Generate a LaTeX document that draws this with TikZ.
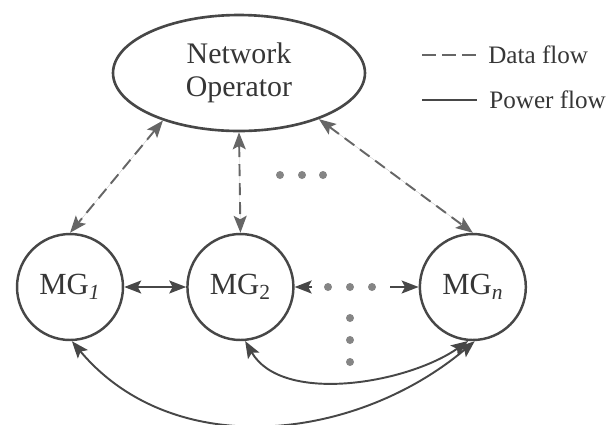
\documentclass[tikz,border=0pt]{standalone}
\usepackage{fontspec}
\setmainfont{Liberation Serif}
\usetikzlibrary{shapes.geometric, arrows.meta, positioning}
\usepackage{xcolor}
\definecolor{linegray}{HTML}{474747}
\definecolor{dashgray}{HTML}{666666}
\definecolor{dotgray}{HTML}{858585}
\definecolor{textgray}{HTML}{363636}

\tikzset{mgtip/.tip={Stealth[length=3.4mm, width=2.6mm, inset=0.7mm]}}

\begin{document}
\begin{tikzpicture}[
    x=0.02cm, y=-0.02cm,
    operator/.style={draw=linegray, ellipse, line width=1.5pt, minimum width=5.04cm, minimum height=2.32cm, inner sep=0pt, align=center, text=textgray, font=\fontsize{17}{19}\selectfont},
    mgnode/.style={draw=linegray, circle, line width=1.4pt, minimum size=2.12cm, inner sep=0pt, text=textgray, font=\fontsize{17.5}{20}\selectfont},
    arr/.style={mgtip-mgtip, line width=1.1pt, draw=linegray, fill=linegray},
    onearr/.style={-mgtip, line width=1.1pt, draw=linegray, fill=linegray},
    datarr/.style={arr, draw=dashgray, fill=dashgray, dash pattern=on 0.24cm off 0.14cm},
    legend/.style={anchor=west, inner xsep=0.24cm, inner ysep=0pt, text=textgray, font=\fontsize{14.3}{17}\selectfont},
]
\useasboundingbox (0,0) rectangle (609,424);

% operator and microgrids
\node[operator] (op) at (239,73) {Network\\Operator};

\node[mgnode] (mg1) at (70,287) {MG\textsubscript{\textit{1}}};
\node[mgnode, right=1.24cm of mg1] (mg2) {MG\textsubscript{2}};
\node[mgnode, right=2.48cm of mg2] (mgn) {MG\textsubscript{\textit{n}}};

% data flow
\draw[datarr] (op.212) -- (mg1.north);
\draw[datarr] (op.south) -- (mg2.north);
\draw[datarr] (op.330) -- (mgn.north);

% power flow
\draw[arr] (mg1) -- (mg2);
\coordinate (dl) at (312,287);
\coordinate (dr) at (390,287);
\draw[onearr] (dl) -- (mg2);
\draw[onearr] (dr) -- (mgn);
\draw[arr, fill=none] (mg2.275) to[out=-60, in=215, looseness=0.85] (mgn.265);
\draw[arr, fill=none] (mg1.272) to[out=-50, in=220] (mgn.272);

% dots
\foreach \x in {328,350,372} \fill[dotgray] (\x,287) circle (0.08cm);
\foreach \y in {318,340,362} \fill[dotgray] (350,\y) circle (0.08cm);
\foreach \x in {280,302,323} \fill[dotgray] (\x,175) circle (0.08cm);

% legend
\node[legend] (datalbl) at (476,55) {Data flow};
\coordinate (datakey) at (422,55);
\draw[dashgray, line width=1.2pt, dash pattern=on 0.28cm off 0.12cm] (datakey) -- (datalbl.west);
\node[legend] (powerlbl) at (477,100) {Power flow};
\coordinate (powerkey) at (422,100);
\draw[linegray, line width=1.2pt] (powerkey) -- (powerlbl.west);

\end{tikzpicture}
\end{document}
